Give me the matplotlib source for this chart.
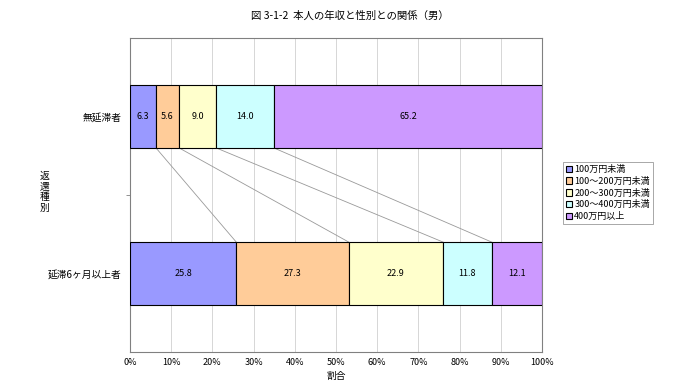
import numpy as np
import matplotlib.pyplot as plt

plt.rcParams['font.family'] = ['Noto Sans CJK JP', 'DejaVu Sans']

categories = ['無延滞者', '延滞6ヶ月以上者']
series = ['100万円未満', '100～200万円未満', '200～300万円未満', '300～400万円未満', '400万円以上']
values = [
    [6.3, 25.8],
    [5.6, 27.3],
    [9.0, 22.9],
    [14.0, 11.8],
    [65.2, 12.1],
]
colors = ['#9999FF', '#FFCC99', '#FFFFCC', '#CCFFFF', '#CC99FF']

fig = plt.figure(figsize=(7, 3.9), dpi=100)
ax = fig.add_axes([130 / 700, 1 - 352 / 390, 412 / 700, 314 / 390])

y = np.arange(len(categories))
h = 0.4
left = np.zeros(len(categories))
for name, vals, c in zip(series, values, colors):
    vals = np.array(vals)
    bars = ax.barh(y, vals, h, left=left, color=c, edgecolor='black', linewidth=0.8, label=name, zorder=3)
    ax.bar_label(bars, labels=[f'{v:.1f}' for v in vals], label_type='center', fontsize=6.5)
    left = left + vals

# series lines between bars
cum = np.cumsum(np.array(values), axis=0)
for row in cum[:-1]:
    ax.plot([row[0], row[1]], [y[0] + h / 2, y[1] - h / 2], color='#999999', linewidth=0.6, zorder=2)

ax.set_xlim(0, 100)
ax.set_ylim(1.5, -0.5)
ax.set_xticks(np.arange(0, 101, 10))
ax.set_xticklabels([f'{t}%' for t in range(0, 101, 10)], fontsize=6.5)
ax.set_yticks(y)
ax.set_yticklabels(categories, fontsize=7)
ax.set_yticks([0.5], minor=True)
ax.tick_params(axis='y', which='major', length=0, pad=6)
ax.tick_params(axis='y', which='minor', length=3, color='#808080')
ax.tick_params(axis='x', length=0, pad=4)
ax.grid(axis='x', color='#D0D0D0', linewidth=0.6, zorder=0)
for s in ax.spines.values():
    s.set_color('#808080')
    s.set_linewidth(0.8)

ax.set_xlabel('割合', fontsize=7, labelpad=3)
fig.text(45 / 700, 1 - 192 / 390, '返\n還\n種\n別', fontsize=7, ha='center', va='center', linespacing=1.1)
fig.text(0.5, 1 - 16 / 390, '図 3-1-2  本人の年収と性別との関係（男）', fontsize=7.5, ha='center', va='center')

leg = ax.legend(loc='center left', bbox_to_anchor=(563 / 700, 1 - 193 / 390), bbox_transform=fig.transFigure,
                fontsize=6.5, frameon=True, fancybox=False, handlelength=0.7, handleheight=0.7,
                handletextpad=0.2, borderpad=0.35, labelspacing=0.3, borderaxespad=0)
leg.get_frame().set_edgecolor('#808080')
leg.get_frame().set_linewidth(0.6)

fig.savefig('out.png', dpi=100)
